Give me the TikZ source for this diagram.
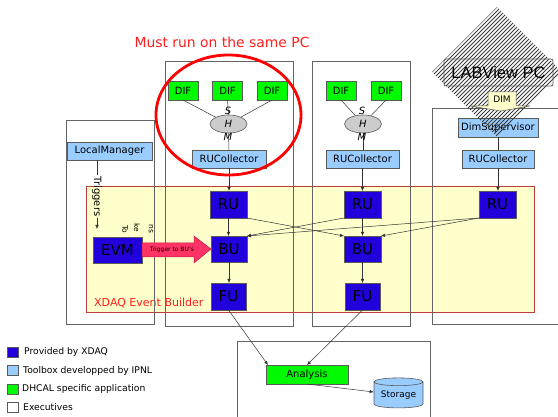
\documentclass[tikz,border=0pt]{standalone}
\usepackage{fontspec}
\setmainfont{DejaVu Sans}
\newfontfamily\labfont{Liberation Sans}
\usetikzlibrary{shapes.geometric,arrows.meta}
\definecolor{xdaq}{RGB}{34,0,220}
\definecolor{toolblue}{RGB}{153,204,255}
\definecolor{difgreen}{RGB}{0,250,0}
\definecolor{boxgray}{RGB}{90,90,90}
\definecolor{execgray}{RGB}{100,100,100}
\definecolor{yellowbg}{RGB}{255,255,204}
\definecolor{regionred}{RGB}{190,60,60}
\definecolor{pinkarrow}{RGB}{255,51,102}
\definecolor{pinkborder}{RGB}{190,30,70}
\definecolor{titlered}{RGB}{255,30,30}
\definecolor{hatch}{RGB}{60,60,60}
\newcommand\myfs[1]{\fontsize{#1}{#1}\selectfont}
\begin{document}
\begin{tikzpicture}[x=1pt,y=-1pt,
  box/.style={draw=boxgray, line width=0.6pt, rectangle, inner sep=0pt, outer sep=0pt},
  execbox/.style={draw=execgray, line width=0.8pt, rectangle, inner sep=0pt, outer sep=0pt},
  xdaqnode/.style={box, fill=xdaq, font=\myfs{15}, minimum width=37pt, minimum height=27pt},
  toolnode/.style={box, fill=toolblue, font=\myfs{10}, minimum height=18pt},
  difnode/.style={box, fill=difgreen, font=\myfs{10}, minimum width=30pt, minimum height=19pt},
  shmnode/.style={ellipse, draw=boxgray, line width=0.6pt, fill=black!20, inner sep=0pt, minimum width=37pt, minimum height=18pt, font=\myfs{10}\itshape},
  shmlab/.style={font=\myfs{10}\itshape, inner sep=0pt},
  legtext/.style={anchor=west, font=\myfs{9.2}, inner sep=0pt},
  hatchline/.style={draw=hatch, line width=0.75pt},
  conn/.style={draw=black!80, line width=0.5pt},
  arr/.style={conn, -{Latex[length=4pt,width=3.4pt]}},
]
\useasboundingbox (0,0) rectangle (558,417);
\clip (0,0) rectangle (558,417);

% Event builder region
\node[draw=regionred, fill=yellowbg, line width=0.7pt, minimum width=448pt, minimum height=126pt, inner sep=0pt] (region) at (310,249) {};
\node[anchor=west, text=titlered, font=\myfs{11}, inner sep=0pt] (regionlabel) at (94,303) {XDAQ Event Builder};

% executive boxes
\node[execbox, minimum width=88pt, minimum height=204pt] (lmbox) at (110,222) {};
\node[execbox, minimum width=128pt, minimum height=265pt] (box1) at (229,193.5) {};
\node[execbox, minimum width=98pt, minimum height=265pt] (box2) at (361,193.5) {};
\node[execbox, minimum width=140pt, minimum height=216pt] (box3) at (502,216) {};
\node[execbox, minimum width=193pt, minimum height=79pt] (anbox) at (333.5,380.5) {};

% column 1
\node[difnode] (dif1) at (183,90.5) {DIF};
\node[difnode] (dif2) at (227.5,90.5) {DIF};
\node[difnode] (dif3) at (272,90.5) {DIF};
\node[shmnode] (shm1) at (228.5,124) {H};
\node[toolnode, minimum width=74pt] (ruc1) at (229,159) {RUCollector};
\draw[conn] (dif1.south) -- (shm1);
\draw[conn] (dif2.south) -- (shm1.north);
\draw[conn] (dif3.south) -- (shm1);
\draw[conn] (shm1.south) -- (ruc1.north);
\node[shmlab] (s1) at (228,111) {S};
\node[shmlab] (m1) at (228,137) {M};
\node[xdaqnode] (ru1) at (228.5,204.5) {RU};
\node[xdaqnode, minimum width=36pt, minimum height=26pt] (bu1) at (229,249) {BU};
\node[xdaqnode, minimum width=35pt] (fu1) at (228.5,296.5) {FU};

% column 2
\node[difnode] (dif4) at (341,90.5) {DIF};
\node[difnode] (dif5) at (386,90.5) {DIF};
\node[shmnode] (shm2) at (363,124) {H};
\node[toolnode, minimum width=73pt] (ruc2) at (362.5,159) {RUCollector};
\draw[conn] (dif4.south) -- (shm2);
\draw[conn] (dif5.south) -- (shm2);
\draw[conn] (shm2.south) -- (shm2.south |- ruc2.north);
\node[shmlab] (s2) at (362,111) {S};
\node[shmlab] (m2) at (362,137) {M};
\node[xdaqnode] (ru2) at (362.5,204.5) {RU};
\node[xdaqnode, minimum height=26pt] (bu2) at (362.5,249) {BU};
\node[xdaqnode, minimum width=35pt] (fu2) at (362.5,296.5) {FU};

% column 3
\node[toolnode, minimum width=80pt, minimum height=19pt] (dimsup) at (498,127.5) {DimSupervisor};
\node[toolnode, minimum width=72pt] (ruc3) at (498,159) {RUCollector};
\draw[conn] (dimsup.south) -- (ruc3.north);
\node[xdaqnode] (ru3) at (497.5,204.5) {RU};

% local manager and EVM
\node[toolnode, minimum width=85pt] (lm) at (109.5,151) {LocalManager};
\node[xdaqnode, minimum width=49pt, minimum height=26pt] (evm) at (117.5,250) {EVM};
\node[rotate=-90, font=\myfs{10}, inner sep=1pt] (trig) at (97,196.5) {Triggers};
\draw[conn] (trig.west |- lm.south) -- (trig.west);
\draw[arr] (trig.east) -- ([yshift=8pt]trig.east |- evm.north);
\node[rotate=-90, font=\myfs{7.5}, inner sep=0pt] (tok1) at (125,229) {To};
\node[rotate=-90, font=\myfs{7.5}, inner sep=0pt] (tok2) at (137,228) {ke};
\node[rotate=-90, font=\myfs{7.5}, inner sep=0pt] (tok3) at (151,229) {ns};

% trigger arrow
\filldraw[fill=pinkarrow, draw=pinkborder, line width=0.5pt]
  (evm.east |- 0,243) -- (194,243) -- (194,236) -- (bu1.west) -- (194,263) -- (194,257) -- (evm.east |- 0,257) -- cycle;
\node[font=\myfs{6}, inner sep=0pt] (trigbu) at (172,250) {Trigger to BU's};

% connectors
\draw[arr] (ruc1.south) -- (ruc1.south |- ru1.north);
\draw[arr] (ruc2.south) -- (ruc2.south |- ru2.north);
\draw[arr] (ruc3.south) -- (ruc3.south |- ru3.north);
\draw[arr] (ru1.south) -- (ru1.south |- bu1.north);
\draw[arr] (ru2.south) -- (bu2.north);
\draw[arr] (ru1.south east) -- (bu2.north west);
\draw[arr] (ru2.south west) -- (bu1.north east);
\draw[arr] (ru3.south west) -- (bu1.north east);
\draw[arr] (ru3.south west) -- (bu2.north east);
\draw[arr] (bu1.south) -- (bu1.south |- fu1.north);
\draw[arr] (bu2.south) -- (fu2.north);

% analysis
\node[box, fill=difgreen, font=\myfs{10}, minimum width=82pt, minimum height=19pt] (analysis) at (307,374.5) {Analysis};
\node[cylinder, shape border rotate=90, aspect=0.22, draw=boxgray, line width=0.6pt, fill=toolblue, minimum width=49pt, minimum height=30pt, inner sep=0pt, font=\myfs{9}] (storage) at (398.5,395) {Storage};
\draw[arr] (fu1.south) -- ([xshift=2pt]analysis.north west);
\draw[arr] (fu2.south) -- (analysis.north);
\draw[arr] (analysis.south) -- (storage);

% LABView PC (hatched diamond)
\begin{scope}
  \clip (497,7) -- (562,72) -- (497,137) -- (432,72) -- cycle;
  \foreach \a in {292,296,...,564} \draw[hatchline] (\a,140) -- (\a+140,0);
\end{scope}
\node[draw=boxgray, line width=0.8pt, rounded corners=2pt, minimum width=109pt, minimum height=27pt, inner sep=0pt, font=\labfont\myfs{16.5}] (labview) at (498.5,72.5) {LABView PC};
\filldraw[fill=yellowbg, draw=boxgray, line width=0.5pt] (488,92) -- (516,92) -- (516,106) -- (530,106) -- (501,111) -- (470,106) -- (488,106) -- cycle;
\node[font=\myfs{9}, inner sep=0pt] (dim) at (502,99.5) {DIM};

% must run on the same PC
\draw[red, line width=2.8pt] (228.5,115) ellipse [x radius=72.5pt, y radius=60pt];
\node[text=titlered, font=\myfs{13.9}, inner sep=0pt] (title) at (222,42) {Must run on the same PC};

% legend
\node[box, fill=xdaq, minimum width=11pt, minimum height=10pt] (lg1) at (12.5,352) {};
\node[box, fill=toolblue, minimum width=11pt, minimum height=10pt] (lg2) at (12.5,370.5) {};
\node[box, fill=difgreen, minimum width=11pt, minimum height=10pt] (lg3) at (12.5,389) {};
\node[box, fill=white, minimum width=11pt, minimum height=10pt] (lg4) at (12.5,407.5) {};
\node[legtext] (lt1) at (24,352) {Provided by XDAQ};
\node[legtext] (lt2) at (23,370.5) {Toolbox developped by IPNL};
\node[legtext] (lt3) at (22,389) {DHCAL specific application};
\node[legtext] (lt4) at (23,407.5) {Executives};
\end{tikzpicture}
\end{document}
